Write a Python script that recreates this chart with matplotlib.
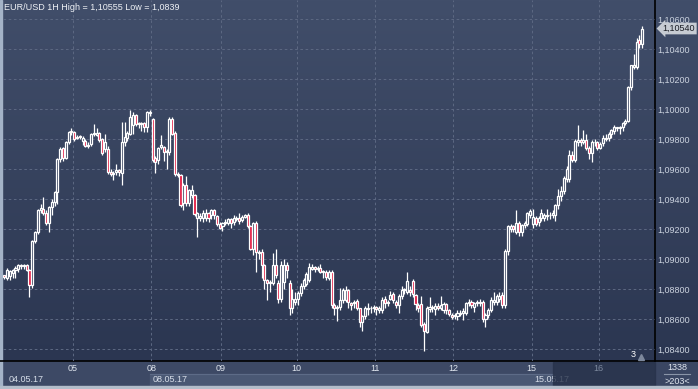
import matplotlib
matplotlib.use('Agg')
import matplotlib.pyplot as plt
import matplotlib.transforms as mtransforms
from matplotlib.patches import Rectangle
import numpy as np

# EUR/USD 1H candles, 04.05.17 - 16.05.17 (one line per day)
opens = [
    1.08895, 1.0888, 1.0889, 1.0891, 1.0893, 1.0894, 1.0896, 1.08955, 1.08965, 1.0893, 1.0883, 1.09125, 1.09185,
    1.0933, 1.0934, 1.0931, 1.09245, 1.0935, 1.0938, 1.0945, 1.0967, 1.0974, 1.09675, 1.09785, 1.0985,
    1.0985, 1.0981, 1.0982, 1.0979, 1.0979, 1.0976, 1.0977, 1.09835, 1.0983, 1.0984, 1.0980, 1.0974, 1.0974,
    1.09585, 1.09575, 1.0958, 1.09595, 1.09575, 1.0978, 1.0981, 1.0984, 1.0990, 1.0996, 1.0991, 1.09905, 1.0991,
    1.09885, 1.09975,
    1.09935, 1.09675, 1.09665, 1.0975, 1.0975, 1.09715, 1.0972, 1.0994, 1.0984, 1.0957, 1.09565, 1.09375, 1.09495,
    1.09375, 1.0943, 1.0943, 1.09275, 1.0928, 1.09275, 1.09275, 1.0931, 1.09295, 1.0933, 1.0929, 1.09235,
    1.0922, 1.09245, 1.09245, 1.0927, 1.0925, 1.0927, 1.09275, 1.09265, 1.09285, 1.09295, 1.0922, 1.0907, 1.0924,
    1.0905, 1.0905, 1.08965, 1.08865, 1.0884, 1.0884, 1.08965, 1.08845, 1.0874, 1.0885, 1.08965, 1.08845, 1.0868,
    1.0872,
    1.08735, 1.08775, 1.0882, 1.08835, 1.08865, 1.0894, 1.0895, 1.08935, 1.08945, 1.08915, 1.0892, 1.08875, 1.0892,
    1.0870, 1.08675, 1.08685, 1.0873, 1.0873, 1.08795, 1.0871, 1.0871, 1.08725, 1.08675, 1.08585, 1.0862, 1.0867,
    1.08675, 1.08675,
    1.0868, 1.08665, 1.08665, 1.0874, 1.0871, 1.0874, 1.0877, 1.0872, 1.08695, 1.08755, 1.08795, 1.08785, 1.08795,
    1.08855, 1.08765, 1.08695, 1.08705, 1.0857, 1.0852, 1.0867, 1.08685, 1.0867, 1.0869, 1.08675, 1.08665, 1.08705,
    1.08665, 1.0863,
    1.0862, 1.0862, 1.08635, 1.0864, 1.08645, 1.0871, 1.08715, 1.08685, 1.0871, 1.0871, 1.08715, 1.0860, 1.0863,
    1.08665, 1.0872, 1.0872, 1.0874, 1.08765, 1.08695, 1.09055, 1.0920, 1.0922, 1.09185, 1.0924, 1.09185, 1.0923,
    1.0924, 1.09295,
    1.09235, 1.09275, 1.0925, 1.09275, 1.09275, 1.0929, 1.0930, 1.0930, 1.0930, 1.09365, 1.0942, 1.09455, 1.0954,
    1.0954, 1.09695, 1.09665, 1.09785, 1.09795, 1.09785, 1.09795, 1.09745, 1.0971, 1.0978, 1.0978,
    1.09745, 1.09775, 1.0981, 1.0981, 1.09835, 1.09855, 1.09875, 1.09875, 1.09885, 1.0991, 1.09925, 1.1015, 1.10285,
    1.10285, 1.10465, 1.1044,
]
highs = [
    1.0890, 1.08945, 1.0893, 1.0894, 1.08955, 1.0897, 1.0897, 1.0897, 1.0897, 1.08935, 1.0913, 1.0919, 1.0934,
    1.0937, 1.09415, 1.0933, 1.0936, 1.0940, 1.0946, 1.09675, 1.0975, 1.0975, 1.0979, 1.0986, 1.0988,
    1.0986, 1.0983, 1.0983, 1.0982, 1.0980, 1.0978, 1.09845, 1.09905, 1.09875, 1.0985, 1.0981, 1.0984, 1.0976,
    1.0960, 1.0959, 1.09635, 1.0960, 1.0992, 1.09915, 1.0986, 1.09995, 1.0998, 1.0997, 1.0992, 1.0992, 1.0992,
    1.0999, 1.09995,
    1.09945, 1.0969, 1.0975, 1.0983, 1.0976, 1.0974, 1.0995, 1.0995, 1.0986, 1.0958, 1.0957, 1.0951, 1.09555,
    1.0947, 1.09495, 1.0944, 1.0932, 1.0931, 1.0933, 1.0934, 1.0932, 1.0934, 1.0934, 1.0930, 1.0925,
    1.0925, 1.0927, 1.0928, 1.0928, 1.0930, 1.0929, 1.0931, 1.0930, 1.09305, 1.0931, 1.0923, 1.0925, 1.0926,
    1.0906, 1.0907, 1.0897, 1.0887, 1.0886, 1.0904, 1.0907, 1.0886, 1.0899, 1.0900, 1.0898, 1.0886, 1.0880,
    1.0878,
    1.0879, 1.0884, 1.0888, 1.0892, 1.08975, 1.0897, 1.0896, 1.0896, 1.0897, 1.0893, 1.0893, 1.0893, 1.0893,
    1.0871, 1.0870, 1.0881, 1.0881, 1.0882, 1.0880, 1.0872, 1.0873, 1.0874, 1.0868, 1.0863, 1.0869, 1.0871,
    1.0869, 1.0870,
    1.0869, 1.0869, 1.0875, 1.0876, 1.0873, 1.0879, 1.0878, 1.0873, 1.0877, 1.0882, 1.0881, 1.0892, 1.0882,
    1.0887, 1.0877, 1.0871, 1.0876, 1.0858, 1.0869, 1.0875, 1.0870, 1.0871, 1.0871, 1.08755, 1.0872, 1.0871,
    1.0867, 1.0864,
    1.0864, 1.0866, 1.0866, 1.0868, 1.0872, 1.0874, 1.0873, 1.0872, 1.0873, 1.0874, 1.0873, 1.0864, 1.0868,
    1.0875, 1.0878, 1.0877, 1.0878, 1.0878, 1.0907, 1.0923, 1.0924, 1.0923, 1.0933, 1.0926, 1.0924, 1.0926,
    1.0932, 1.0934,
    1.09335, 1.0929, 1.0929, 1.0934, 1.0931, 1.0934, 1.0932, 1.0933, 1.0937, 1.0947, 1.0949, 1.0956, 1.0962,
    1.0973, 1.09725, 1.0980, 1.0990, 1.0981, 1.09865, 1.0984, 1.0976, 1.09795, 1.09805, 1.0979,
    1.0978, 1.0983, 1.09835, 1.0985, 1.0987, 1.0990, 1.09885, 1.0989, 1.0992, 1.09935, 1.1016, 1.1030, 1.1037,
    1.1048, 1.1050, 1.10555,
]
lows = [
    1.0887, 1.0886, 1.0886, 1.0888, 1.0888, 1.0892, 1.0894, 1.0894, 1.08925, 1.0875, 1.0881, 1.0911, 1.0917,
    1.0931, 1.0930, 1.0923, 1.09185, 1.0930, 1.0936, 1.0937, 1.0965, 1.0966, 1.0967, 1.0977, 1.0983,
    1.0979, 1.0980, 1.0980, 1.09765, 1.0975, 1.09745, 1.0976, 1.0982, 1.0982, 1.0978, 1.0970, 1.0972, 1.0957,
    1.0956, 1.0953, 1.09565, 1.0956, 1.0950, 1.0976, 1.0979, 1.0983, 1.0984, 1.0989, 1.0988, 1.0986, 1.0985,
    1.0985, 1.0996,
    1.0965, 1.09575, 1.0964, 1.0974, 1.0966, 1.09605, 1.0970, 1.0983, 1.0956, 1.0955, 1.0935, 1.0933, 1.0936,
    1.0936, 1.0941, 1.0929, 1.0915, 1.0926, 1.0925, 1.0926, 1.0925, 1.0927, 1.0927, 1.0922, 1.0920,
    1.0919, 1.0923, 1.0923, 1.0921, 1.0923, 1.0926, 1.0924, 1.0925, 1.09275, 1.0921, 1.0906, 1.0903, 1.0892,
    1.0900, 1.0888, 1.0880, 1.0873, 1.0878, 1.0883, 1.0888, 1.0871, 1.0872, 1.0880, 1.0888, 1.0863, 1.0864,
    1.0870,
    1.0870, 1.0876, 1.0880, 1.0882, 1.0885, 1.0893, 1.0892, 1.08925, 1.0891, 1.0888, 1.0886, 1.0886, 1.0868,
    1.0863, 1.0859, 1.0866, 1.0871, 1.0872, 1.0868, 1.0866, 1.0868, 1.0866, 1.0855, 1.08525, 1.0860, 1.0863,
    1.0864, 1.0865,
    1.0863, 1.0864, 1.0864, 1.0868, 1.0869, 1.0873, 1.0871, 1.0868, 1.0864, 1.0874, 1.0877, 1.0877, 1.0876,
    1.0875, 1.0866, 1.0865, 1.0855, 1.0839, 1.0851, 1.0865, 1.0865, 1.0863, 1.0866, 1.0866, 1.0864, 1.08635,
    1.0862, 1.0860,
    1.0860, 1.08595, 1.0862, 1.08595, 1.0863, 1.0869, 1.0868, 1.0865, 1.0869, 1.0869, 1.08585, 1.0855, 1.0861,
    1.0865, 1.0870, 1.0870, 1.0872, 1.0868, 1.0868, 1.0903, 1.0918, 1.0918, 1.0917, 1.0916, 1.0916, 1.0921,
    1.0922, 1.0928,
    1.0921, 1.0922, 1.0922, 1.09255, 1.0926, 1.09265, 1.0927, 1.0928, 1.0926, 1.0934, 1.0939, 1.0944, 1.0952,
    1.0952, 1.0965, 1.0965, 1.0976, 1.0976, 1.0977, 1.0973, 1.0967, 1.0965, 1.0976, 1.0973,
    1.09735, 1.0976, 1.0979, 1.0979, 1.0981, 1.0984, 1.09855, 1.0984, 1.0986, 1.09895, 1.09915, 1.1013, 1.1027,
    1.1027, 1.1041, 1.1041,
]
closes = [
    1.08885, 1.0893, 1.08925, 1.0893, 1.08945, 1.08965, 1.08955, 1.08965, 1.0893, 1.0883, 1.09125, 1.09185, 1.0933,
    1.09345, 1.0931, 1.09245, 1.0935, 1.0938, 1.0945, 1.0967, 1.0974, 1.09675, 1.09785, 1.0985, 1.09855,
    1.0980, 1.09815, 1.09815, 1.0981, 1.0976, 1.09765, 1.09835, 1.0984, 1.09845, 1.09795, 1.0971, 1.0978, 1.09585,
    1.0957, 1.0957, 1.09595, 1.0958, 1.09785, 1.09815, 1.0984, 1.0995, 1.09965, 1.09905, 1.09905, 1.0991, 1.09885,
    1.09985, 1.09985,
    1.09665, 1.0965, 1.0974, 1.09765, 1.0972, 1.09725, 1.0994, 1.0984, 1.0957, 1.09565, 1.09365, 1.09495, 1.09375,
    1.09465, 1.09465, 1.09305, 1.0931, 1.0929, 1.0931, 1.0931, 1.09275, 1.0933, 1.09295, 1.09235, 1.0921,
    1.0924, 1.0925, 1.0927, 1.09245, 1.09275, 1.09275, 1.0926, 1.09285, 1.09295, 1.09225, 1.0907, 1.0924, 1.0905,
    1.0904, 1.08965, 1.08865, 1.0884, 1.0885, 1.08965, 1.08895, 1.0874, 1.08965, 1.08965, 1.0893, 1.0868, 1.08735,
    1.08735,
    1.08775, 1.0882, 1.08865, 1.08905, 1.0895, 1.0895, 1.0894, 1.08945, 1.0892, 1.0892, 1.08885, 1.0892, 1.08695,
    1.08675, 1.08685, 1.0873, 1.08795, 1.08795, 1.0872, 1.08695, 1.0872, 1.0868, 1.08585, 1.0862, 1.08675, 1.08675,
    1.08675, 1.0868,
    1.0867, 1.08675, 1.0873, 1.0871, 1.0872, 1.08765, 1.0873, 1.08695, 1.08755, 1.08795, 1.0880, 1.08855, 1.08785,
    1.0877, 1.08705, 1.08675, 1.08565, 1.08525, 1.08675, 1.0868, 1.08675, 1.0869, 1.0868, 1.08695, 1.08705, 1.08665,
    1.08635, 1.08615,
    1.0863, 1.0864, 1.08645, 1.08655, 1.0871, 1.0872, 1.08695, 1.0871, 1.0872, 1.0872, 1.0860, 1.0863, 1.08665,
    1.0873, 1.0873, 1.08755, 1.08755, 1.08695, 1.09055, 1.0922, 1.09225, 1.0920, 1.0924, 1.09185, 1.0923, 1.09245,
    1.0931, 1.0932,
    1.0928, 1.0924, 1.09275, 1.0931, 1.09295, 1.0930, 1.0930, 1.0931, 1.09365, 1.0942, 1.09455, 1.0954, 1.09605,
    1.09695, 1.09665, 1.0979, 1.09795, 1.09785, 1.09795, 1.09745, 1.0971, 1.09785, 1.09785, 1.09745,
    1.0977, 1.0981, 1.09805, 1.09835, 1.0986, 1.0988, 1.0988, 1.09885, 1.0991, 1.09925, 1.1015, 1.10295, 1.10295,
    1.1045, 1.1044, 1.1054,
]

day_labels = ['05', '08', '09', '10', '11', '12', '15', '16']
day_starts = [25, 53, 78, 105, 133, 161, 189, 213]
price_ticks = [1.084, 1.086, 1.088, 1.090, 1.092, 1.094, 1.096, 1.098, 1.100, 1.102, 1.104, 1.106]
title = 'EUR/USD 1H High = 1,10555 Low = 1,0839'
last_price = 1.1054

o = np.array(opens)
h = np.array(highs)
l = np.array(lows)
c = np.array(closes)
idx = np.arange(len(c))

plt.rcParams['font.family'] = ['Liberation Sans', 'DejaVu Sans']

W, H = 698, 389
fig = plt.figure(figsize=(W / 100, H / 100), dpi=100)

# decoration layer in pixel units (panels, frame, bottom bar)
deco = fig.add_axes([0, 0, 1, 1], zorder=0)
deco.set_xlim(0, W)
deco.set_ylim(H, 0)
deco.axis('off')

grad = np.linspace(0, 1, 256).reshape(-1, 1)
top_col = np.array([0x41, 0x4e, 0x6a]) / 255
bot_col = np.array([0x2b, 0x36, 0x51]) / 255
img = top_col + (bot_col - top_col) * grad[:, :, None]
deco.imshow(img, extent=(0, W, 361, 0), aspect='auto', zorder=0)

deco.add_patch(Rectangle((0, 361), W, 28, color='#3d4965', zorder=1))
deco.add_patch(Rectangle((150, 374), 403, 12, color='#4a5874', zorder=1))
deco.plot([150, 553], [374, 374], color='#5d6b87', lw=0.8, zorder=2)
deco.add_patch(Rectangle((656, 362), 42, 24, color='#3a4662', zorder=1))
deco.plot([664, 690], [374, 374], color='#8a95a8', lw=0.8, zorder=2)
deco.text(9, 380, '04.05.17', color='#d6dde8', fontsize=6.5, va='center', ha='left', zorder=3)
deco.text(153, 380, '08.05.17', color='#d6dde8', fontsize=6.5, va='center', ha='left', zorder=3)
deco.text(534, 380, '15.05.17', color='#d6dde8', fontsize=6.5, va='center', ha='left', zorder=3)
deco.add_patch(Rectangle((553, 362), 102, 24, color='#27324a', alpha=0.8, zorder=4))
deco.text(677, 367, '1338', color='#dfe5ee', fontsize=6.5, va='center', ha='center', zorder=5)
deco.text(677, 381, '>203<', color='#dfe5ee', fontsize=6.5, va='center', ha='center', zorder=5)
deco.add_patch(Rectangle((0, 0), 2, H, color='#a4b3c7', zorder=6))
deco.add_patch(Rectangle((0, 386), W, 3, color='#b3bdca', zorder=6))
deco.plot([655, 655], [0, 361], color='black', lw=1.2, zorder=6)
deco.plot([0, W], [361, 361], color='black', lw=1.2, zorder=6)

# main candle chart
ax = fig.add_axes([3 / W, 28 / H, 652 / W, 361 / H], zorder=2)
ax.set_facecolor('none')
ax.set_xlim(-0.46, 232.6)
ax.set_ylim(1.1073 - 361 / 15000, 1.1073)

up = c >= o
ax.vlines(idx, l, h, colors='white', linewidth=0.9, zorder=3)
ax.bar(idx, np.abs(c - o), bottom=np.minimum(o, c), width=0.74,
       color=np.where(up, '#35405b', '#e2143c'), edgecolor='white', linewidth=0.9, zorder=4)

ax.set_xticks([s - 0.5 for s in day_starts])
ax.set_xticklabels(day_labels)
ax.set_yticks(price_ticks)
ax.set_yticklabels([f'{v:.5f}'.replace('.', ',') for v in price_ticks])
ax.grid(True, color='#5b6781', linestyle=(0, (2.5, 2.5)), linewidth=0.75, zorder=1)
ax.tick_params(axis='y', left=False, right=True, labelleft=False, labelright=True,
               length=0, pad=2, labelsize=6.5, labelcolor='#cbd3df')
ax.tick_params(axis='x', length=0, pad=2, labelsize=6.5, labelcolor='#dfe5ee')
ax.get_xticklabels()[-1].set_color('#7d899e')
for s in ax.spines.values():
    s.set_visible(False)

ax.text(0.002, 1 - 8 / 361, title, transform=ax.transAxes, ha='left', va='center',
        color='#eef1f5', fontsize=6.5)

# last price tag on the price scale
trans = mtransforms.blended_transform_factory(ax.transAxes, ax.transData)
ax.text(1.012, last_price, '1,10540', transform=trans, ha='left', va='center', fontsize=6.5,
        color='#1a1d24', clip_on=False,
        bbox=dict(boxstyle='larrow,pad=0.15', fc='#c6cbd3', ec='none'))

ax.text(0.966, 0.018, '3', transform=ax.transAxes, ha='center', va='center', color='white', fontsize=6.5)
ax.plot([0.978], [0.012], marker='^', ms=4, color='#7d889c', transform=ax.transAxes, clip_on=False)

fig.savefig('out.png', dpi=100)
